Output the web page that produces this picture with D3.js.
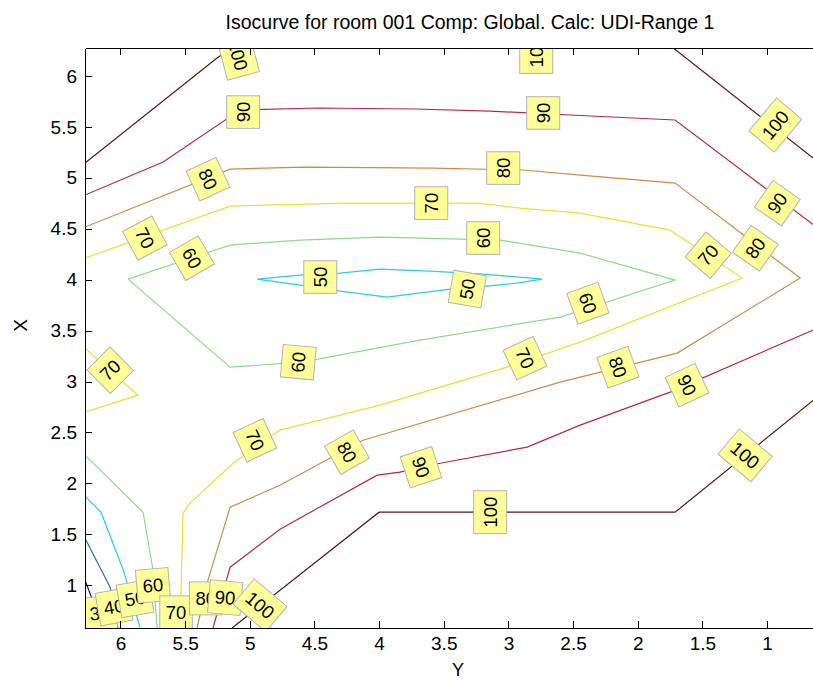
<!DOCTYPE html>
<html>
  <head>
    <meta charset="utf-8">
    <title>Isocurve for room 001</title>
    <script src="https://d3js.org/d3.v7.min.js"></script>
    <style>
      body { margin: 0; background: #fff; }
      svg text { font-family: "Liberation Sans", Arial, sans-serif; fill: #000; }
      .axis path, .axis line { stroke: #000; shape-rendering: crispEdges; }
    </style>
  </head>
  <body>
    <div id="chart"></div>
    <script>
      // contour levels and tick values
      var levels = [30, 40, 50, 60, 70, 80, 90, 100];
      var yTicks = [6, 5.5, 5, 4.5, 4, 3.5, 3, 2.5, 2, 1.5, 1];   // horizontal axis "Y"
      var xTicks = [1, 1.5, 2, 2.5, 3, 3.5, 4, 4.5, 5, 5.5, 6];   // vertical axis "X"

      // isolines, points as [Y, X]
      var iso100a = [[6.274, 5.145], [5.253, 6.177], [5.13, 6.28]];
      var iso100b = [[1.73, 6.28], [0.6, 5.15]];
      var iso100c = [[5.137, 0.58], [4.0, 1.717], [1.711, 1.717], [0.6, 2.86]];
      var iso90a = [[6.274, 4.831], [5.67, 5.155], [5.075, 5.666], [4.479, 5.686], [3.722, 5.676],
                    [3.142, 5.656], [2.523, 5.617], [1.711, 5.568], [0.6, 4.5]];
      var iso90b = [[5.284, 0.58], [5.152, 1.177], [4.766, 1.55], [4.015, 2.081], [3.838, 2.11],
                    [3.528, 2.198], [2.855, 2.356], [2.445, 2.572], [1.75, 2.896], [0.6, 3.53]];
      var iso80a = [[6.274, 4.517], [5.152, 5.086], [4.572, 5.106], [3.582, 5.096], [2.886, 5.077],
                    [2.445, 5.027], [1.711, 4.949], [0.744, 4.016], [1.695, 3.279], [2.6, 2.994],
                    [4.124, 2.424], [4.766, 1.982], [5.152, 1.766], [5.33, 1.02], [5.407, 0.58]];
      var iso70a = [[6.274, 4.212], [5.152, 4.723], [4.247, 4.752], [3.242, 4.752], [2.91, 4.703],
                    [2.445, 4.654], [1.75, 4.487], [1.193, 4.016], [2.445, 3.387], [3.01, 3.141],
                    [3.992, 2.768], [4.766, 2.523], [5.129, 2.198], [5.462, 1.806], [5.516, 1.707],
                    [5.539, 0.58]];
      var iso70b = [[6.274, 3.328], [5.864, 2.866], [6.274, 2.7]];
      var iso60a = [[5.941, 4.006], [5.152, 4.34], [4.611, 4.389], [3.992, 4.418], [3.064, 4.389],
                    [2.445, 4.261], [1.711, 3.996], [2.6, 3.633], [3.683, 3.407], [4.6, 3.19],
                    [5.152, 3.141], [5.941, 4.006]];
      var iso60b = [[6.274, 2.277], [5.825, 1.717], [5.748, 1.147], [5.717, 0.58]];
      var iso50a = [[4.944, 4.006], [4.611, 4.045], [4.302, 4.065], [3.992, 4.104], [3.606, 4.084],
                    [3.196, 4.055], [2.739, 4.006], [2.933, 3.967], [3.165, 3.937], [3.451, 3.908],
                    [3.938, 3.829], [4.302, 3.888], [4.611, 3.947], [4.944, 4.006]];
      var iso50b = [[6.274, 1.874], [6.15, 1.717], [5.972, 1.128], [5.848, 0.58]];
      var iso40 = [[6.274, 1.462], [6.08, 0.98], [6.019, 0.58]];
      var iso30 = [[6.274, 1.05], [6.2, 0.8], [6.158, 0.58]];

      // inline labels: [level, Y, X]
      var clabels = [
        [30, 6.158, 0.727], [40, 6.05, 0.79], [50, 5.887, 0.87],
        [50, 4.456, 4.026], [50, 3.319, 3.908],
        [60, 5.446, 4.212], [60, 3.196, 4.409], [60, 2.384, 3.77], [60, 4.626, 3.19], [60, 5.748, 1.0],
        [70, 5.81, 4.409], [70, 3.598, 4.752], [70, 1.456, 4.242], [70, 2.871, 3.23], [70, 4.959, 2.424],
        [70, 6.08, 3.112], [70, 5.57, 0.735],
        [80, 5.34, 0.872],
        [80, 5.322, 4.988], [80, 3.041, 5.096], [80, 1.092, 4.31], [80, 2.152, 3.141], [80, 4.247, 2.307],
        [90, 5.052, 5.646], [90, 2.732, 5.637], [90, 0.922, 4.752], [90, 1.618, 2.965], [90, 3.675, 2.159],
        [90, 5.19, 0.88],
        [100, 5.09, 6.206], [100, 2.786, 6.236], [100, 0.937, 5.519], [100, 3.142, 1.717],
        [100, 1.169, 2.277], [100, 4.92, 0.804]
      ];
      // label rotation in degrees, same order as clabels
      var clabelRot = [-5, -10, -10,
        -90, -80,
        60, -90, 70, -85, -5,
        62, -90, -50, 65, 65, -45, 0,
        0,
        65, -90, -55, 70, 60,
        -90, -90, -55, 65, 72, 5,
        75, -90, -50, -90, 40, 40];

      var isolines = [
        {level: 30, pts: iso30}, {level: 40, pts: iso40},
        {level: 50, pts: iso50a}, {level: 50, pts: iso50b},
        {level: 60, pts: iso60a}, {level: 60, pts: iso60b},
        {level: 70, pts: iso70a}, {level: 70, pts: iso70b},
        {level: 80, pts: iso80a},
        {level: 90, pts: iso90a}, {level: 90, pts: iso90b},
        {level: 100, pts: iso100a}, {level: 100, pts: iso100b}, {level: 100, pts: iso100c}
      ];

      var width = 813, height = 681;
      var plotLeft = 85, plotRight = 855, plotTop = 48, plotBottom = 628;

      var lineColor = d3.scaleOrdinal()
        .domain(levels)
        .range(["#10107a", "#2a6cc0", "#2ccde0", "#8ed98e", "#e4e430", "#cf8a45", "#b8283e", "#5e1018"]);

      var svg = d3.select("#chart").append("svg")
        .attr("width", width)
        .attr("height", height);

      var x = d3.scaleLinear().domain([6.274, 0.32]).range([plotLeft, plotRight]);
      var y = d3.scaleLinear().domain([0.58, 6.275]).range([plotBottom, plotTop]);

      svg.append("clipPath").attr("id", "plotclip")
        .append("rect")
        .attr("x", plotLeft).attr("y", plotTop)
        .attr("width", plotRight - plotLeft).attr("height", plotBottom - plotTop);

      var plot = svg.append("g").attr("clip-path", "url(#plotclip)");

      var line = d3.line()
        .x(function(d) { return x(d[0]); })
        .y(function(d) { return y(d[1]); });

      plot.selectAll("path.iso")
        .data(isolines)
        .enter().append("path")
        .attr("class", "iso")
        .attr("d", function(d) { return line(d.pts); })
        .attr("fill", "none")
        .attr("stroke", function(d) { return lineColor(d.level); })
        .attr("stroke-width", 1.2);

      // yellow label boxes, drawn level by level so later ones cover earlier ones
      var lab = plot.selectAll("g.clabel")
        .data(clabels.map(function(c, i) { return {level: c[0], Y: c[1], X: c[2], rot: clabelRot[i]}; }))
        .enter().append("g")
        .attr("class", "clabel")
        .attr("transform", function(d) {
          return "translate(" + x(d.Y) + "," + y(d.X) + ") rotate(" + d.rot + ")";
        });

      lab.append("rect");
      lab.append("text")
        .attr("text-anchor", "middle")
        .attr("dy", "0.36em")
        .style("font-size", "18.5px")
        .text(function(d) { return d.level; });

      lab.each(function() {
        var g = d3.select(this);
        var bb = g.select("text").node().getBBox();
        g.select("rect")
          .attr("x", bb.x - 6)
          .attr("y", bb.y - 6)
          .attr("width", bb.width + 12)
          .attr("height", bb.height + 12)
          .attr("fill", "#ffff99")
          .attr("stroke", "#b3b3b3")
          .attr("stroke-width", 1);
      });

      // axes, ticks inside on all sides
      var bottomAxis = d3.axisBottom(x).tickValues(yTicks).tickFormat(d3.format("")).tickSizeInner(-7).tickSizeOuter(0).tickPadding(9);
      var topAxis = d3.axisTop(x).tickValues(yTicks).tickFormat("").tickSizeInner(-7).tickSizeOuter(0);
      var leftAxis = d3.axisLeft(y).tickValues(xTicks).tickFormat(d3.format("")).tickSizeInner(-7).tickSizeOuter(0).tickPadding(8);

      svg.append("g").attr("class", "axis")
        .attr("transform", "translate(0," + plotBottom + ")")
        .call(bottomAxis)
        .selectAll("text").style("font-size", "19px");
      svg.append("g").attr("class", "axis")
        .attr("transform", "translate(0," + plotTop + ")")
        .call(topAxis);
      svg.append("g").attr("class", "axis")
        .attr("transform", "translate(" + plotLeft + ",0)")
        .call(leftAxis)
        .selectAll("text").style("font-size", "19px");

      svg.selectAll(".axis path").attr("stroke-width", 1.3);

      svg.append("text")
        .attr("x", (plotLeft + plotRight) / 2)
        .attr("y", 29)
        .attr("text-anchor", "middle")
        .style("font-size", "19.5px")
        .text("Isocurve for room 001 Comp: Global. Calc: UDI-Range 1");

      svg.append("text")
        .attr("x", (plotLeft + plotRight) / 2 - 12)
        .attr("y", 676)
        .attr("text-anchor", "middle")
        .style("font-size", "18px")
        .text("Y");

      svg.append("text")
        .attr("transform", "translate(27," + y(3.55) + ") rotate(-90)")
        .attr("text-anchor", "middle")
        .style("font-size", "19px")
        .text("X");
    </script>
  </body>
</html>
